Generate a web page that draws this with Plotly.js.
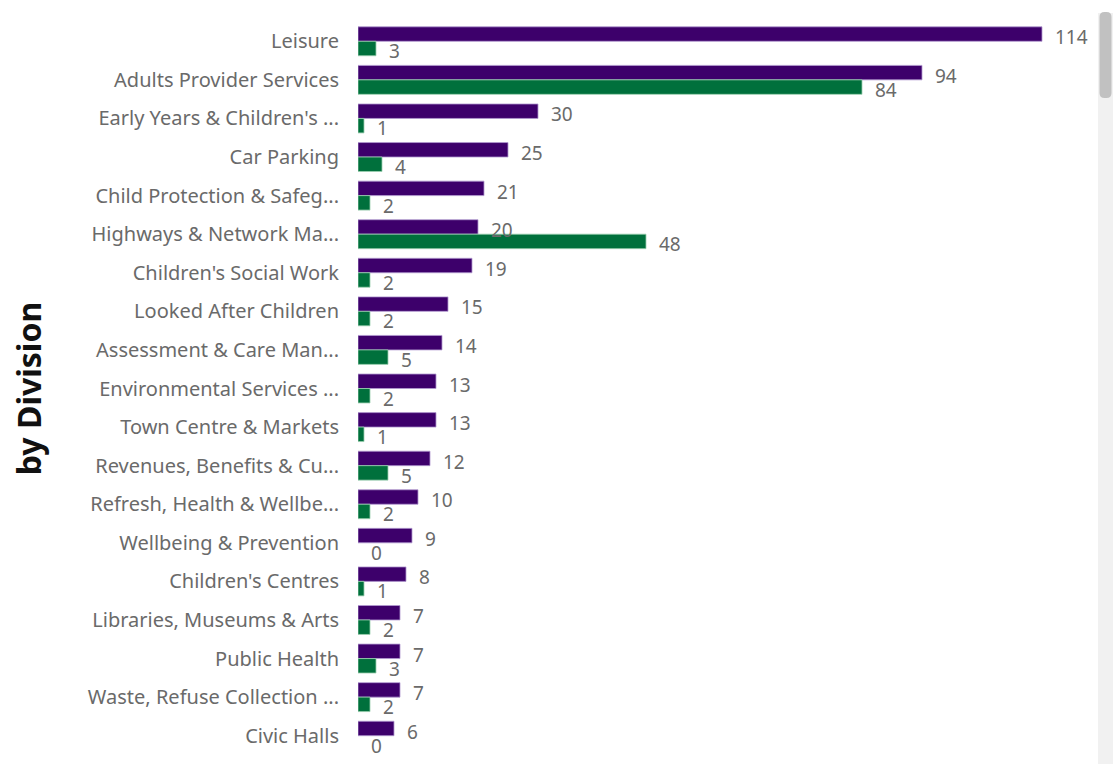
<!DOCTYPE html>
<html>
<head>
<meta charset="utf-8">
<script src="https://cdn.plot.ly/plotly-3.0.1.min.js"></script>
<style>
html,body{margin:0;padding:0;background:#fff;}
#chart{width:1113px;height:764px;}
</style>
</head>
<body>
<div id="chart"></div>
<script>
const divisions = [
  "Leisure",
  "Adults Provider Services",
  "Early Years & Children's ...",
  "Car Parking",
  "Child Protection & Safeg...",
  "Highways & Network Ma...",
  "Children's Social Work",
  "Looked After Children",
  "Assessment & Care Man...",
  "Environmental Services ...",
  "Town Centre & Markets",
  "Revenues, Benefits & Cu...",
  "Refresh, Health & Wellbe...",
  "Wellbeing & Prevention",
  "Children's Centres",
  "Libraries, Museums & Arts",
  "Public Health",
  "Waste, Refuse Collection ...",
  "Civic Halls"
];
const seriesA = [114, 94, 30, 25, 21, 20, 19, 15, 14, 13, 13, 12, 10, 9, 8, 7, 7, 7, 6];
const seriesB = [3, 84, 1, 4, 2, 48, 2, 2, 5, 2, 1, 5, 2, 0, 1, 2, 3, 2, 0];

const W = 1113, H = 764;
const M = {l: 358, r: 17, t: 22, b: 9};
const plotW = W - M.l - M.r;
const plotH = H - M.t - M.b;
const xMax = plotW / 6;
const FONT = "Noto Sans, Open Sans, sans-serif";
const labelColor = "#6a6a6a";

const annotations = [];
divisions.forEach((d, i) => {
  annotations.push({x: seriesA[i], y: d, xref: 'x', yref: 'y', text: String(seriesA[i]),
    showarrow: false, xanchor: 'left', yanchor: 'middle', xshift: 11, yshift: 4,
    font: {family: FONT, size: 19, color: labelColor}});
  annotations.push({x: seriesB[i], y: d, xref: 'x', yref: 'y', text: String(seriesB[i]),
    showarrow: false, xanchor: 'left', yanchor: 'middle', xshift: 11, yshift: -10,
    font: {family: FONT, size: 19, color: labelColor}});
});

function px2paperX(px){ return (px - M.l) / plotW; }
function px2paperY(py){ return 1 - (py - M.t) / plotH; }

function roundedRect(x0p, y0p, x1p, y1p, r){
  const X = px2paperX, Y = px2paperY;
  return `M ${X(x0p + r)} ${Y(y0p)} L ${X(x1p - r)} ${Y(y0p)} Q ${X(x1p)} ${Y(y0p)} ${X(x1p)} ${Y(y0p + r)} ` +
         `L ${X(x1p)} ${Y(y1p - r)} Q ${X(x1p)} ${Y(y1p)} ${X(x1p - r)} ${Y(y1p)} ` +
         `L ${X(x0p + r)} ${Y(y1p)} Q ${X(x0p)} ${Y(y1p)} ${X(x0p)} ${Y(y1p - r)} ` +
         `L ${X(x0p)} ${Y(y0p + r)} Q ${X(x0p)} ${Y(y0p)} ${X(x0p + r)} ${Y(y0p)} Z`;
}

const shapes = [
  {type: 'rect', xref: 'paper', yref: 'paper', x0: px2paperX(1098), x1: px2paperX(1113), y0: px2paperY(764), y1: px2paperY(13),
   fillcolor: '#f1f1f1', line: {width: 0}, layer: 'below'},
  {type: 'path', xref: 'paper', yref: 'paper', layer: 'above', fillcolor: '#c1c1c1', line: {width: 0},
   path: roundedRect(1099.5, 12, 1111.5, 98, 5)}
];

const traces = [
  {type: 'bar', orientation: 'h', name: 'A', y: divisions, x: seriesA,
   marker: {color: '#3d006b', line: {color: '#b39ad0', width: seriesA.map(v => v > 0 ? 0.8 : 0)}}, hoverinfo: 'x+y'},
  {type: 'bar', orientation: 'h', name: 'B', y: divisions, x: seriesB,
   marker: {color: '#00703c', line: {color: '#9ccfb0', width: seriesB.map(v => v > 0 ? 0.8 : 0)}}, hoverinfo: 'x+y'}
];

const layout = {
  width: W, height: H,
  margin: M,
  paper_bgcolor: '#ffffff', plot_bgcolor: '#ffffff',
  barmode: 'group', bargap: 0.25, bargroupgap: 0,
  showlegend: false,
  font: {family: FONT, color: labelColor},
  xaxis: {range: [0, xMax], showgrid: false, zeroline: false, showticklabels: false, showline: false, fixedrange: true},
  yaxis: {
    range: [divisions.length - 0.5, -0.5], type: 'category', showgrid: false, zeroline: false, showline: false,
    ticks: 'outside', ticklen: 14, tickcolor: 'rgba(0,0,0,0)',
    tickfont: {family: FONT, size: 20, color: labelColor},
    automargin: false,
    title: {text: 'by Division', standoff: 36, font: {family: FONT, size: 32, color: '#111111', weight: 700}}
  },
  annotations: annotations,
  shapes: shapes
};

Plotly.newPlot('chart', traces, layout, {displayModeBar: false});
</script>
</body>
</html>
